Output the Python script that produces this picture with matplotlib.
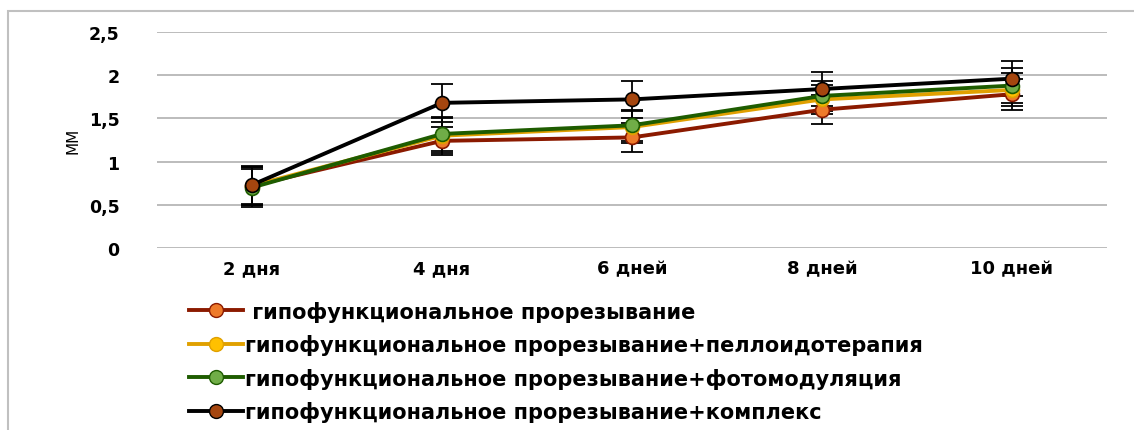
import matplotlib.pyplot as plt
import numpy as np
from matplotlib.lines import Line2D
from matplotlib.patches import Rectangle

plt.rcParams['font.family'] = ['DejaVu Sans']

days = ["2 дня", "4 дня", "6 дней", "8 дней", "10 дней"]

labels = [
    " гипофункциональное прорезывание",
    "гипофункциональное прорезывание+пеллоидотерапия",
    "гипофункциональное прорезывание+фотомодуляция",
    "гипофункциональное прорезывание+комплекс",
]

hypo = [0.72, 1.24, 1.28, 1.60, 1.78]
hypo_err = [0.22, 0.16, 0.17, 0.17, 0.18]
pelo = [0.72, 1.30, 1.40, 1.72, 1.83]
pelo_err = [0.22, 0.20, 0.18, 0.17, 0.19]
photo = [0.70, 1.32, 1.42, 1.76, 1.88]
photo_err = [0.22, 0.20, 0.18, 0.17, 0.20]
compl = [0.73, 1.68, 1.72, 1.84, 1.96]
compl_err = [0.22, 0.22, 0.21, 0.20, 0.20]

series = [hypo, pelo, photo, compl]
errors = [hypo_err, pelo_err, photo_err, compl_err]
line_colors = ["#8B1A00", "#E0A000", "#1E5C00", "#000000"]
marker_colors = ["#EE7A2A", "#FFC000", "#70AD47", "#A5460F"]

fig = plt.figure(figsize=(11.34, 4.31), dpi=100)
ax = fig.add_axes([157 / 1134, 1 - 249 / 431, 950 / 1134, 216 / 431])

x = np.arange(len(days))
for vals, err, lc, mc in zip(series, errors, line_colors, marker_colors):
    ax.errorbar(x, vals, yerr=err, fmt="none", ecolor="black",
                elinewidth=1.3, capsize=8, capthick=1.3, zorder=2)
    ax.plot(x, vals, color=lc, lw=2.8, marker="o", markersize=10,
            markerfacecolor=mc, markeredgecolor=lc, markeredgewidth=1.2, zorder=3)

ax.set_xlim(-0.5, 4.5)
ax.set_ylim(0, 2.5)
ax.set_yticks([0, 0.5, 1, 1.5, 2, 2.5])
ax.set_yticklabels(["0", "0,5", "1", "1,5", "2", "2,5"])
ax.set_xticks(x)
ax.set_xticklabels(days)
ax.tick_params(length=0, labelsize=12.5)
ax.tick_params(axis="y", pad=27)
ax.tick_params(axis="x", pad=8, labelsize=13)
for lab in ax.get_xticklabels() + ax.get_yticklabels():
    lab.set_fontweight("bold")
ax.grid(axis="y", color="#b0b0b0", lw=1.2)
ax.set_axisbelow(True)
for s in ax.spines.values():
    s.set_visible(False)
ax.set_ylabel("ММ", fontsize=11, labelpad=6)

handles = [Line2D([], [], color=lc, lw=2.8, marker="o", markersize=10,
                  markerfacecolor=mc, markeredgecolor=lc)
           for lc, mc in zip(line_colors, marker_colors)]
fig.legend(handles, labels, loc="upper left", bbox_to_anchor=(170 / 1134, 1 - 283 / 431),
           frameon=False, handlelength=2.6, handletextpad=0.1,
           labelspacing=0.6, prop={"weight": "bold", "size": 15})

fig.add_artist(Rectangle((8 / 1134, -0.1), 1.2, 1 - 12 / 431 + 0.1,
                         transform=fig.transFigure, fill=False,
                         edgecolor="#c0c0c0", lw=1.5))

fig.savefig("out.png", dpi=100)
